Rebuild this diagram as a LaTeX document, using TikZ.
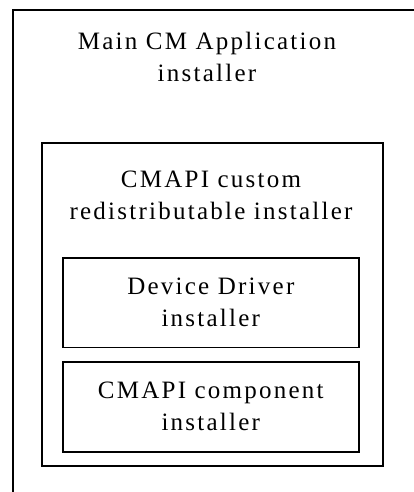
\documentclass[tikz,border=0pt]{standalone}
\usepackage{fontspec}
\setmainfont{Liberation Serif}[LetterSpace=9]
\usetikzlibrary{positioning}

\begin{document}
\begin{tikzpicture}[%
        x = 1pt,
        y = -1pt,
        line width = 1.6pt,
        box/.style = {
            draw,
            rectangle,
            inner sep = 0pt,
            anchor = north west
        },
        caption/.style = {
            align = center,
            inner sep = 0pt,
            font = \fontsize{25}{32}\selectfont
        }
    ]

        % Page size; the outer frame runs off the page.
        \useasboundingbox (0, 0) rectangle (414, 492);
        \clip (0, 0) rectangle (414, 492);

        % Outer box of the main installer.
        \node[box, minimum width = 430pt, minimum height = 510pt] (mainbox) at (12, 9) {};
        \node[caption] (maintext) at (207, 57) {Main CM Application\\installer};

        % Redistributable installer inside it.
        \node[box, minimum width = 341pt, minimum height = 323pt] (redistbox) at (41, 142) {};
        \node[caption] (redisttext) at (211, 195) {CMAPI custom\\redistributable installer};

        % The two installers it bundles.
        \node[box, minimum width = 296pt, minimum height = 89.5pt] (driverbox) at (62, 257) {};
        \node[caption] (drivertext) at (driverbox.center) {Device Driver\\installer};

        \node[box, minimum width = 296pt, minimum height = 90pt] (compbox) at (62, 361) {};
        \node[caption] (comptext) at (compbox.center) {CMAPI component\\installer};
    \end{tikzpicture}
\end{document}
